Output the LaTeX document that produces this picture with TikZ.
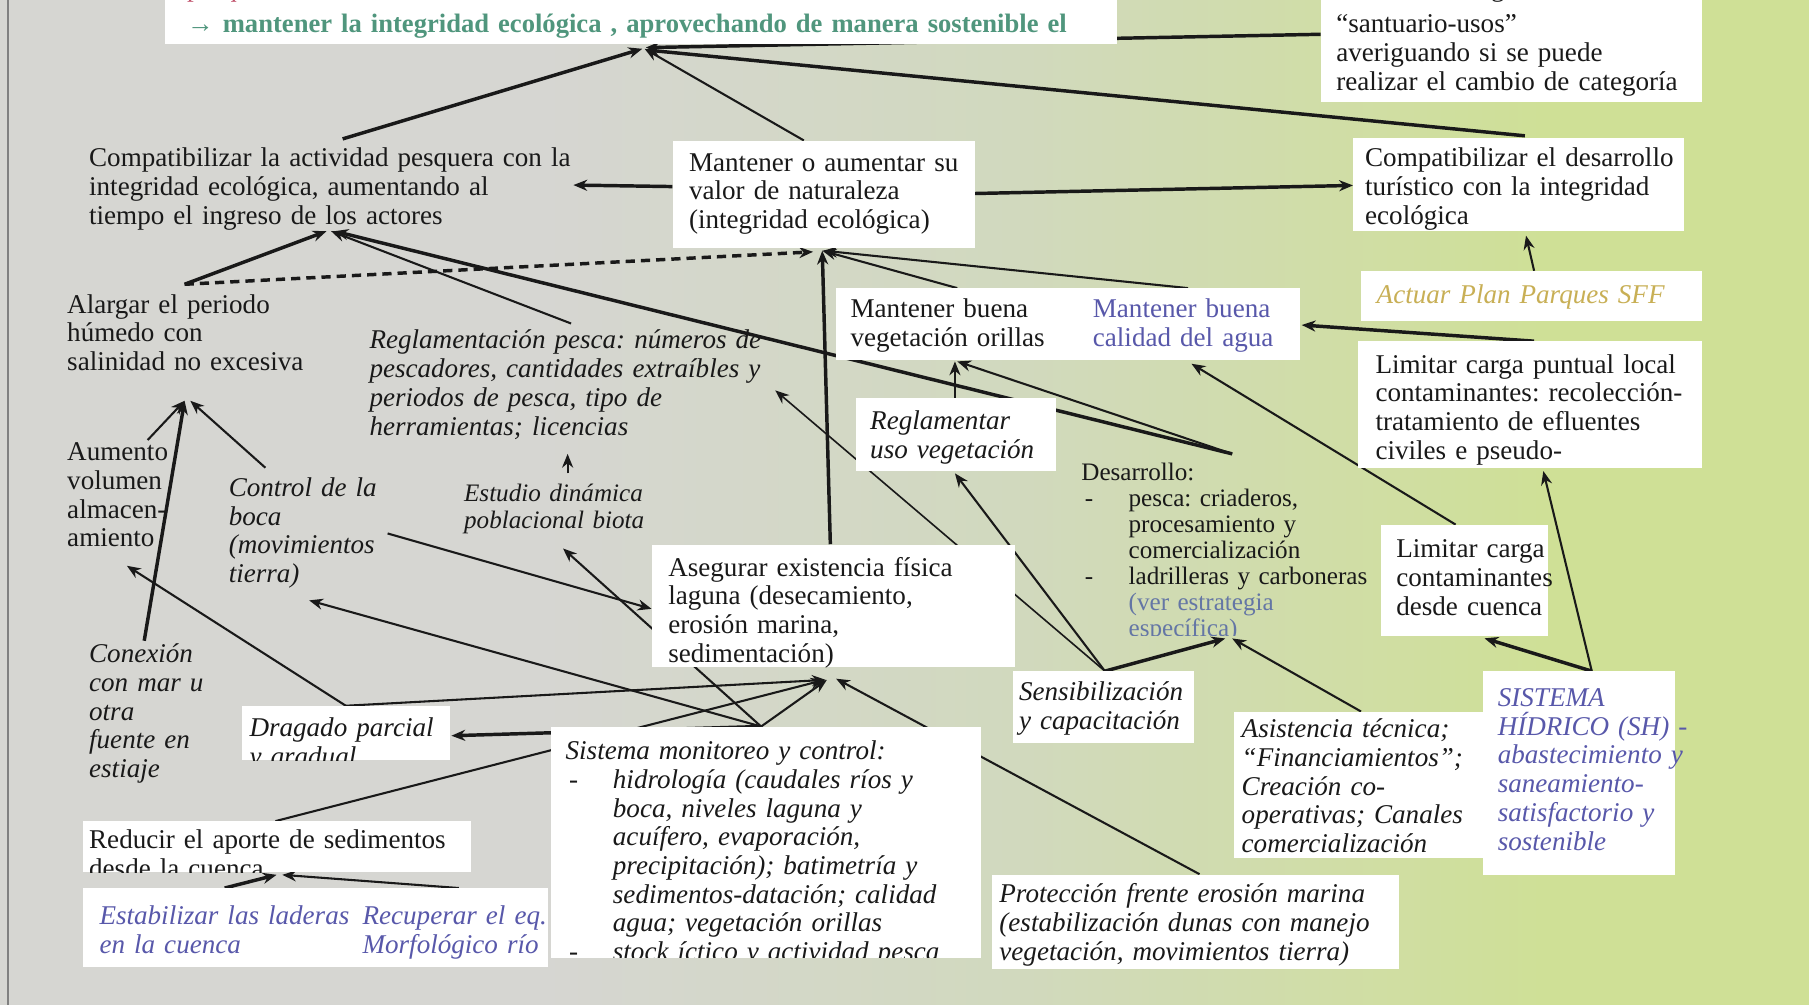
\documentclass[tikz,border=0pt]{standalone}
\usepackage{fontspec}
\setmainfont{Liberation Serif}
\usepackage{xcolor}
\usetikzlibrary{arrows.meta}
\usetikzlibrary{calc}
\usetikzlibrary{fit}
\pgfdeclarelayer{bg}
\pgfsetlayers{bg,main}

\definecolor{fondoA}{RGB}{214,214,210}
\definecolor{fondoB}{RGB}{209,217,190}
\definecolor{fondoC}{RGB}{207,224,150}
\definecolor{rosa}{RGB}{192,80,106}
\definecolor{verdemar}{RGB}{80,150,125}
\definecolor{azul}{RGB}{88,88,170}
\definecolor{grisazul}{RGB}{100,118,165}
\definecolor{oliva}{RGB}{200,175,85}
\definecolor{tinta}{RGB}{25,25,25}

\pgfdeclarehorizontalshading{fondo}{100bp}{color(0bp)=(fondoA); color(40bp)=(fondoA); color(53bp)=(fondoB); color(68bp)=(fondoC); color(100bp)=(fondoC)}

\newcommand\letra{\fontsize{16.7}{17.7}\selectfont}
\newcommand\letrachica{\fontsize{15.5}{16}\selectfont}
\frenchspacing

\tikzset{
  caja/.style={fill=white, inner sep=0pt},
  texto/.style={inner sep=0pt, anchor=base west, align=left, text width=230mm, font=\letra, text=tinta, yshift=-0.6mm},
  flecha/.style={-{Stealth[length=3mm, width=2.4mm]}, line width=0.45mm, draw=tinta},
  flechagruesa/.style={flecha, line width=0.75mm},
}

\begin{document}
\begin{tikzpicture}[x=0.25mm, y=-0.25mm]
\useasboundingbox (0,0) rectangle (1568,871);

\node[caja, fit={(143,-40) (968,38)}] (goal) {};
\node[caja, fit={(1145,-40) (1475,88)}] (cambio) {};
\node[caja, fit={(583,122) (845,215)}] (valor) {};
\node[caja, fit={(1173,120) (1460,200)}] (turismo) {};
\node[caja, fit={(1180,235) (1475,278)}] (parques) {};
\node[caja, fit={(1177,296) (1475,406)}] (puntual) {};
\node[caja, fit={(1197,455) (1342,551)}] (cuenca) {};
\node[caja, fit={(1285,582) (1452,758)}] (hidrico) {};
\node[caja, fit={(1070,617) (1285,744)}] (asistencia) {};
\node[caja, fit={(860,758) (1213,840)}] (proteccion) {};
\node[caja, fit={(878,582) (1035,644)}] (sensib) {};
\node[caja, fit={(725,250) (935,312)}] (vegetacion) {};
\node[caja, fit={(935,250) (1127,312)}] (agua) {};
\node[caja, fit={(742,345) (915,408)}] (reglamentar) {};
\node[caja, fit={(565,472) (880,578)}] (asegurar) {};
\node[caja, fit={(210,612) (390,659)}] (dragado) {};
\node[caja, fit={(478,630) (850,830)}] (monitoreo) {};
\node[caja, fit={(72,712) (408,756)}] (reducir) {};
\node[caja, fit={(72,770) (300,838)}] (laderas) {};
\node[caja, fit={(300,770) (475,838)}] (morfologico) {};

\node[texto] (goaltxt) at (162,-5) {{\color{rosa}pesquero actual}\\[4.3pt]
  {\color{verdemar}\bfseries\fontsize{16.4}{17.7}\selectfont → mantener la integridad ecológica , aprovechando de manera sostenible el}};
\node[texto] (cambiotxt) at (1158,-5) {revisar la categoría\\[4.3pt] “santuario-usos”\\ averiguando si se puede\\ realizar el cambio de categoría};
\node[texto] (pesquera) at (77,142) {Compatibilizar la actividad pesquera con la\\ integridad ecológica, aumentando al\\ tiempo el ingreso de los actores};
\node[texto] (valortxt) at (597,146) {Mantener o aumentar su\\ valor de naturaleza\\ (integridad ecológica)};
\node[texto] (turismotxt) at (1183,142) {Compatibilizar el desarrollo\\ turístico con la integridad\\ ecológica};
\node[texto, font=\letra\itshape, text=oliva] (parquestxt) at (1193,261) {Actuar Plan Parques SFF};
\begin{scope}
  \clip (puntual.south west) rectangle (puntual.north east);
  \node[texto] (puntualtxt) at (1192,321) {Limitar carga puntual local\\ contaminantes: recolección-\\ tratamiento de efluentes\\ civiles e pseudo-};
\end{scope}
\node[texto] (cuencatxt) at (1210,481) {Limitar carga\\ contaminantes\\ desde cuenca};
\node[texto, font=\letra\itshape, text=azul] (hidricotxt) at (1298,610) {SISTEMA\\ HÍDRICO (SH) -\\ abastecimiento y\\ saneamiento-\\ satisfactorio y\\ sostenible};
\node[texto, font=\letra\itshape] (asistenciatxt) at (1076,637) {Asistencia técnica;\\ “Financiamientos”;\\ Creación co-\\ operativas; Canales\\ comercialización};
\node[texto, font=\letra\itshape] (protecciontxt) at (866,780) {Protección frente erosión marina\\ (estabilización dunas con manejo\\ vegetación, movimientos tierra)};
\node[texto, font=\letra\itshape] (sensibtxt) at (883,605) {Sensibilización\\ y capacitación};
\begin{scope}
  \clip (930,380) rectangle (1220,551);
  \node[texto, font=\letrachica] (desarrollo) at (937,414) {Desarrollo:\\
    \makebox[10.25mm][l]{\hspace*{0.75mm}-}pesca: criaderos,\\
    \hspace*{10.25mm}procesamiento y\\
    \hspace*{10.25mm}comercialización\\
    \makebox[10.25mm][l]{\hspace*{0.75mm}-}ladrilleras y carboneras\\
    \hspace*{10.25mm}{\color{grisazul}(ver estrategia}\\
    \hspace*{10.25mm}{\color{grisazul}específica)}};
\end{scope}
\node[texto] (vegetaciontxt) at (737,273) {Mantener buena\\ vegetación orillas};
\node[texto, text=azul] (aguatxt) at (947,273) {Mantener buena\\ calidad del agua};
\node[texto, font=\letra\itshape] (reglamentartxt) at (754,370) {Reglamentar\\ uso vegetación};
\node[texto] (alargar) at (58,269) {Alargar el periodo\\ húmedo con\\ salinidad no excesiva};
\node[texto, font=\letra\itshape] (reglapesca) at (320,300) {Reglamentación pesca: números de\\ pescadores, cantidades extraíbles y\\ periodos de pesca, tipo de\\ herramientas; licencias};
\node[texto] (aumento) at (58,397) {Aumento\\ volumen\\ almacen-\\ amiento};
\node[texto, font=\letra\itshape] (boca) at (198,428) {Control de la\\ boca\\ (movimientos\\ tierra)};
\node[texto, font=\fontsize{15.5}{17}\selectfont\itshape] (estudio) at (402,432) {Estudio dinámica\\ poblacional biota};
\begin{scope}
  \clip (asegurar.south west) rectangle (asegurar.north east);
  \node[texto] (asegurartxt) at (579,497) {Asegurar existencia física\\ laguna (desecamiento,\\ erosión marina,\\ sedimentación)};
\end{scope}
\node[texto, font=\letra\itshape] (conexion) at (77,572) {Conexión\\ con mar u\\ otra\\ fuente en\\ estiaje};
\begin{scope}
  \clip (dragado.south west) rectangle (dragado.north east);
  \node[texto, font=\letra\itshape] (dragadotxt) at (216,636) {Dragado parcial\\ y gradual};
\end{scope}
\begin{scope}
  \clip (monitoreo.south west) rectangle (monitoreo.north east);
  \node[texto, font=\letra\itshape] (monitoreotxt) at (490,656) {Sistema monitoreo y control:\\
    \makebox[10.25mm][l]{\hspace*{0.75mm}-}hidrología (caudales ríos y\\
    \hspace*{10.25mm}boca, niveles laguna y\\
    \hspace*{10.25mm}acuífero, evaporación,\\
    \hspace*{10.25mm}precipitación); batimetría y\\
    \hspace*{10.25mm}sedimentos-datación; calidad\\
    \hspace*{10.25mm}agua; vegetación orillas\\
    \makebox[10.25mm][l]{\hspace*{0.75mm}-}stock íctico y actividad pesca};
\end{scope}
\begin{scope}
  \clip (reducir.south west) rectangle (reducir.north east);
  \node[texto] (reducirtxt) at (77,733) {Reducir el aporte de sedimentos\\ desde la cuenca};
\end{scope}
\node[texto, font=\letra\itshape, text=azul] (laderastxt) at (86,799) {Estabilizar las laderas\\ en la cuenca};
\node[texto, font=\letra\itshape, text=azul] (morfologicotxt) at (314,799) {Recuperar el eq.\\ Morfológico río};

\begin{pgfonlayer}{bg}
\shade[shading=fondo] (0,0) rectangle (1568,871);
\draw[gray, line width=0.4mm] (7,0) -- (7,871);

\draw[flechagruesa] ($(pesquera.base west)+(220,-24)$) -- ($(goal.south west)+(414,4)$);
\draw[flecha] ($(valor.north west)+(114,0)$) -- ($(goal.south west)+(416,4)$);
\draw[flechagruesa] ($(cambio.north west)+(0,70)$) -- ($(goal.south west)+(417,3)$);
\draw[flechagruesa] ($(turismo.north west)+(149,-2)$) -- ($(goal.south west)+(417,5)$);
\draw[flechagruesa] ($(valor.north west)+(0,40)$) -- ($(pesquera.base west)+(420,16)$);
\draw[flechagruesa] ($(valor.north east)+(0,46)$) -- ($(turismo.north west)+(0,41)$);
\draw[flecha] ($(parques.north west)+(150,0)$) -- ($(turismo.south west)+(150,4)$);
\draw[flechagruesa] ($(puntual.north west)+(153,0)$) -- ($(agua.north east)+(1,32)$);
\draw[flecha] ($(cuenca.north west)+(65,0)$) -- ($(agua.south west)+(98,3)$);
\draw[flecha] ($(hidrico.north west)+(95,0)$) -- ($(puntual.south west)+(161,2)$);
\draw[flechagruesa] ($(hidrico.north west)+(95,0)$) -- ($(cuenca.south west)+(90,2)$);
\draw[flecha] ($(vegetacion.north west)+(105,0)$) -- ($(valor.south west)+(130,2)$);
\draw[flecha] ($(agua.north west)+(95,0)$) -- ($(valor.south west)+(131,2)$);
\draw[flechagruesa] ($(asegurar.north west)+(155,0)$) -- ($(valor.south west)+(130,2)$);
\draw[flechagruesa, dash pattern=on 2mm off 1.3mm] ($(alargar.base west)+(102,-25)$) -- ($(valor.south west)+(122,3)$);
\draw[flechagruesa] ($(alargar.base west)+(102,-25)$) -- ($(pesquera.base west)+(206,56)$);
\draw[flecha] ($(reglapesca.base west)+(175,-22)$) -- ($(pesquera.base west)+(210,56)$);
\draw[flechagruesa] ($(desarrollo.base west)+(131,-23)$) -- ($(pesquera.base west)+(213,56)$);
\draw[flecha] ($(desarrollo.base west)+(131,-23)$) -- ($(vegetacion.south west)+(105,1)$);
\draw[flecha] ($(reglamentar.north west)+(86,0)$) -- ($(vegetacion.south west)+(103,1)$);
\draw[flecha] ($(sensib.north west)+(80,0)$) -- ($(reglamentar.south west)+(86,2)$);
\draw[flecha, line width=0.35mm] ($(sensib.north west)+(80,0)$) -- ($(reglapesca.base west)+(352,36)$);
\draw[flechagruesa] ($(sensib.north west)+(80,0)$) -- ($(desarrollo.base west)+(125,137)$);
\draw[flecha] ($(asistencia.north west)+(110,0)$) -- ($(desarrollo.base west)+(131,137)$);
\draw[flecha] ($(proteccion.north west)+(180,0)$) -- ($(asegurar.south west)+(160,10)$);
\draw[flecha] ($(monitoreo.north west)+(182,0)$) -- ($(asegurar.south west)+(152,11)$);
\draw[flechagruesa] ($(monitoreo.north west)+(182,0)$) -- ($(dragado.north east)+(1,26)$);
\draw[flecha] ($(monitoreo.north west)+(182,0)$) -- ($(boca.base west)+(70,90)$);
\draw[flecha] ($(monitoreo.north west)+(182,0)$) -- ($(estudio.base west)+(86,41)$);
\draw[flecha] ($(boca.base west)+(138,32)$) -- ($(asegurar.north west)+(0,56)$);
\draw[flecha] ($(dragado.north west)+(90,0)$) -- ($(aumento.base west)+(52,91)$);
\draw[flecha] ($(dragado.north west)+(90,0)$) -- ($(asegurar.south west)+(151,11)$);
\draw[flecha] ($(reducir.north west)+(167,0)$) -- ($(asegurar.south west)+(150,11)$);
\draw[flechagruesa] ($(conexion.base west)+(48,-19)$) -- ($(alargar.base west)+(102,76)$);
\draw[flecha] ($(aumento.base west)+(70,-18)$) -- ($(alargar.base west)+(102,76)$);
\draw[flecha] ($(boca.base west)+(32,-25)$) -- ($(alargar.base west)+(107,76)$);
\draw[flecha] ($(estudio.base west)+(90,-24)$) -- ($(reglapesca.base west)+(172,91)$);
\draw[flechagruesa] ($(laderas.north west)+(123,0)$) -- ($(reducir.south west)+(168,2)$);
\draw[flecha] ($(morfologico.north west)+(98,0)$) -- ($(reducir.south west)+(173,2)$);
\end{pgfonlayer}
\end{tikzpicture}
\end{document}
